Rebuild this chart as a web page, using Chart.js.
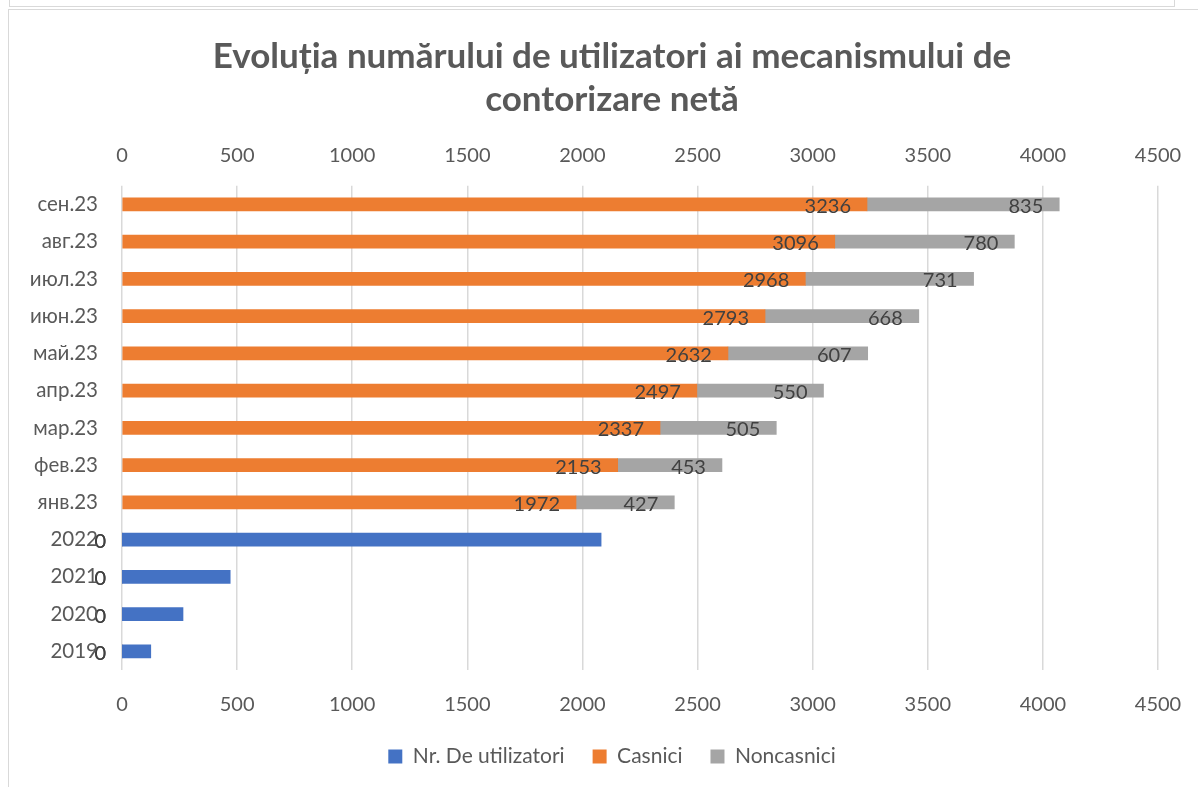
<!DOCTYPE html>
<html>
<head>
<meta charset="utf-8">
<script src="https://cdn.jsdelivr.net/npm/chart.js@4.4.1/dist/chart.umd.min.js"></script>
<style>
  body { margin: 0; background: #fff; }
  #wrap { position: relative; width: 1198px; height: 787px; overflow: hidden; }
  #topBox { position: absolute; left: 9px; top: -4px; width: 1164px; height: 9px; border: 1px solid #d9d9d9; }
  #frame { position: absolute; left: 8px; top: 9px; width: 1200px; height: 800px; border: 1.5px solid #d9d9d9; }
  canvas { position: absolute; left: 0; top: 0; }
</style>
</head>
<body>
<div id="wrap">
  <div id="topBox"></div>
  <div id="frame"></div>
  <canvas id="netChart" width="1198" height="787"></canvas>
</div>
<script>
// ------- data -------
const periods = ['2019', '2020', '2021', '2022', 'янв.23', 'фев.23', 'мар.23', 'апр.23', 'май.23', 'июн.23', 'июл.23', 'авг.23', 'сен.23'];
const nrUtilizatori = [125, 265, 470, 2081, null, null, null, null, null, null, null, null, null];
const casnici = [0, 0, 0, 0, 1972, 2153, 2337, 2497, 2632, 2793, 2968, 3096, 3236];
const noncasnici = [0, 0, 0, 0, 427, 453, 505, 550, 607, 668, 731, 780, 835];
const xTicks = [0, 500, 1000, 1500, 2000, 2500, 3000, 3500, 4000, 4500];

const textColor = '#595959';
const gridColor = '#d9d9d9';
const fontFamily = 'Lato, "Open Sans", sans-serif';

// data labels, right aligned inside the end of each bar (Excel "inside end")
const barLabels = {
  id: 'barLabels',
  afterDatasetsDraw(chart) {
    const ctx = chart.ctx;
    ctx.save();
    ctx.font = '20px ' + fontFamily;
    ctx.fillStyle = '#404040';
    ctx.textAlign = 'right';
    ctx.textBaseline = 'middle';
    [1, 2].forEach(function (i) {
      const meta = chart.getDatasetMeta(i);
      meta.data.forEach(function (bar, j) {
        const v = chart.data.datasets[i].data[j];
        if (v === null || v === undefined) return;
        ctx.fillText(String(v), bar.x - 16, bar.y + 2);
      });
    });
    ctx.restore();
  }
};

// category labels drawn by hand: the scale would clip them to its own (narrow) box
const yLabels = {
  id: 'yLabels',
  afterDraw(chart) {
    const ctx = chart.ctx;
    const yScale = chart.scales.y;
    ctx.save();
    ctx.font = '20.5px ' + fontFamily;
    ctx.fillStyle = textColor;
    ctx.textAlign = 'right';
    ctx.textBaseline = 'middle';
    periods.forEach(function (p, i) {
      ctx.fillText(p, chart.chartArea.left - 24, yScale.getPixelForValue(i));
    });
    ctx.restore();
  }
};

const data = {
  labels: periods,
  datasets: [
    // secondary (top) axis in the original workbook
    { label: 'Nr. De utilizatori', data: nrUtilizatori, backgroundColor: '#4472c4', xAxisID: 'x2' },
    { label: 'Casnici', data: casnici, backgroundColor: '#ed7d31', xAxisID: 'x' },
    { label: 'Noncasnici', data: noncasnici, backgroundColor: '#a5a5a5', xAxisID: 'x' }
  ]
};

const tickFont = { family: fontFamily, size: 20 };
const xTickOpts = {
  color: textColor,
  font: tickFont,
  maxRotation: 0,
  autoSkip: false,
  callback: function (v) { return String(v); }
};

const config = {
  type: 'bar',
  data: data,
  options: {
    indexAxis: 'y',
    responsive: false,
    animation: false,
    barThickness: 13,
    // left padding keeps title/legend centred like the original
    layout: { padding: { left: 66, right: 40, top: 0, bottom: 10 } },
    scales: {
      x: {
        position: 'bottom',
        stacked: true,
        min: 0,
        max: 4500,
        afterBuildTicks: function (scale) { scale.ticks = xTicks.map(v => ({ value: v })); },
        ticks: Object.assign({}, xTickOpts, { padding: 23 }),
        grid: { color: gridColor, lineWidth: 1.5, drawTicks: false },
        border: { display: false },
        afterFit: function (scale) { scale.height = 48; scale.paddingRight = 0; scale.paddingLeft = 0; }
      },
      x2: {
        type: 'linear',
        position: 'top',
        stacked: true,
        min: 0,
        max: 4500,
        afterBuildTicks: function (scale) { scale.ticks = xTicks.map(v => ({ value: v })); },
        ticks: Object.assign({}, xTickOpts, { padding: 18 }),
        grid: { display: false, drawTicks: false },
        border: { display: false },
        afterFit: function (scale) { scale.height = 64; scale.paddingRight = 0; scale.paddingLeft = 0; }
      },
      y: {
        stacked: true,
        reverse: true,
        ticks: { display: false },
        grid: { display: false, drawTicks: false },
        border: { display: false },
        afterFit: function (scale) { scale.width = 56; }
      }
    },
    plugins: {
      title: {
        display: true,
        text: ['Evoluția numărului de utilizatori ai mecanismului de', 'contorizare netă'],
        color: textColor,
        font: { family: fontFamily, size: 35, weight: 'bold', lineHeight: 1.24 },
        padding: { top: 35, bottom: 0 }
      },
      legend: {
        position: 'bottom',
        labels: {
          color: textColor,
          font: { family: fontFamily, size: 21 },
          boxWidth: 14,
          boxHeight: 14,
          padding: 28
        }
      },
      tooltip: { enabled: false }
    }
  },
  plugins: [barLabels, yLabels]
};

const myChart = new Chart(
  document.getElementById('netChart'),
  config
);
</script>
</body>
</html>
